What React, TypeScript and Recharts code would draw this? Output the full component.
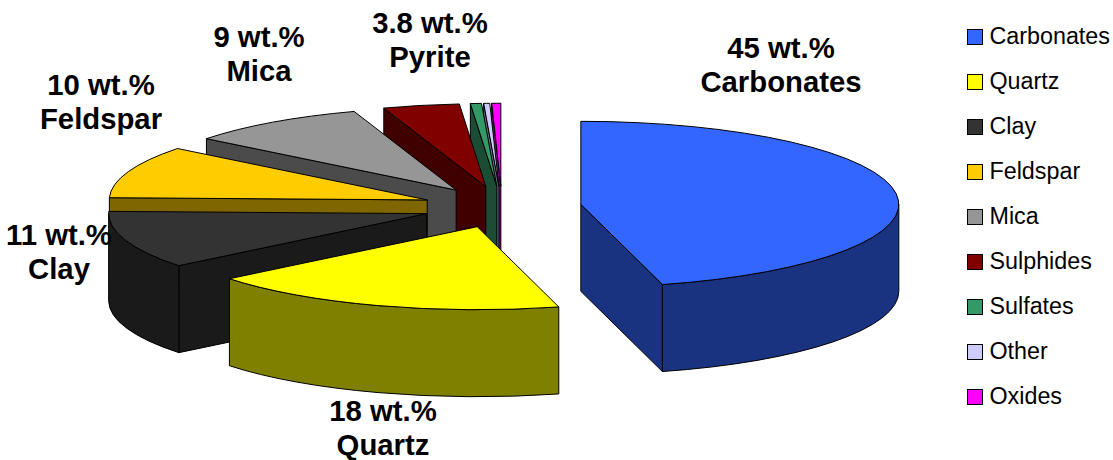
import { PieChart, Pie, Legend } from 'recharts';

const categories = ['Carbonates', 'Quartz', 'Clay', 'Feldspar', 'Mica', 'Sulphides', 'Sulfates', 'Other', 'Oxides'];
const weights = [45, 18, 11, 10, 9, 3.8, 0.55, 0.3, 0.45];
const topColors = ['#3366FF', '#FFFF00', '#333333', '#FFCC00', '#969696', '#800000', '#339966', '#CCCCFF', '#FF00FF'];
const sideColors = ['#1A3380', '#808000', '#1A1A1A', '#806600', '#4B4B4B', '#400000', '#1A4D33', '#666680', '#800080'];

// the caption under each percentage; the small slices carry none
const captions: Record<string, string> = {
  Carbonates: 'Carbonates',
  Quartz: 'Quartz',
  Clay: 'Clay',
  Feldspar: 'Feldspar',
  Mica: 'Mica',
  Sulphides: 'Pyrite',
};
const captionAnchors: Record<string, [number, number]> = {
  Carbonates: [781, 58],
  Quartz: [383, 421],
  Clay: [59, 245],
  Feldspar: [101, 95],
  Mica: [259, 47],
  Sulphides: [430, 33],
};

const RX = 318;
const RY = 83;
const DEPTH = 87;
const EXPLODE = 0.25;

// drawn back to front, running the angles the other way round so the layout stays clockwise from 12 o'clock
const tableData = categories
  .map((name, i) => ({ name, value: weights[i], fill: topColors[i], side: sideColors[i] }))
  .reverse();

const rad = (deg: number) => (deg * Math.PI) / 180;

function Slice3D(props: any) {
  const { cx, cy, startAngle, endAngle, fill, payload } = props;
  const a0 = Math.min(startAngle, endAngle);
  const a1 = Math.max(startAngle, endAngle);
  const mid = rad((a0 + a1) / 2);
  const ox = cx + EXPLODE * RX * Math.cos(mid);
  const oy = cy - EXPLODE * RY * Math.sin(mid);
  const pt = (deg: number): [number, number] => [ox + RX * Math.cos(rad(deg)), oy - RY * Math.sin(rad(deg))];
  const side = payload?.side ?? props.side;
  const stroke = { stroke: '#000', strokeWidth: 1, strokeLinejoin: 'round' as const };

  const wall = (deg: number) => {
    const [x, y] = pt(deg);
    return `M${ox},${oy} L${x},${y} L${x},${y + DEPTH} L${ox},${oy + DEPTH} Z`;
  };

  // the outer wall only shows on the front half of the ellipse
  const rimFrom = Math.max(a0, -180);
  const rimTo = Math.min(a1, 0);
  let rim = '';
  if (rimTo > rimFrom) {
    const [x0, y0] = pt(rimFrom);
    const [x1, y1] = pt(rimTo);
    const large = rimTo - rimFrom > 180 ? 1 : 0;
    rim = `M${x0},${y0} A${RX},${RY} 0 ${large} 0 ${x1},${y1} L${x1},${y1 + DEPTH} A${RX},${RY} 0 ${large} 1 ${x0},${y0 + DEPTH} Z`;
  }

  const [sx, sy] = pt(a0);
  const [ex, ey] = pt(a1);
  const top = `M${ox},${oy} L${sx},${sy} A${RX},${RY} 0 ${a1 - a0 > 180 ? 1 : 0} 0 ${ex},${ey} Z`;

  return (
    <g>
      {Math.cos(rad(a0)) > 0 && <path d={wall(a0)} fill={side} {...stroke} />}
      {Math.cos(rad(a1)) < 0 && <path d={wall(a1)} fill={side} {...stroke} />}
      {rim && <path d={rim} fill={side} {...stroke} />}
      <path d={top} fill={fill} {...stroke} />
    </g>
  );
}

function renderCaption(props: any) {
  const name = props.name ?? props.payload?.name;
  const anchor = captionAnchors[name];
  if (!anchor) return null;
  const value = props.value ?? props.payload?.value;
  return (
    <text
      x={anchor[0]}
      y={anchor[1]}
      textAnchor="middle"
      fontFamily="'Liberation Sans', Arial, sans-serif"
      fontWeight="bold"
      fontSize={29.3}
      fill="#000"
    >
      <tspan x={anchor[0]}>{`${value} wt.%`}</tspan>
      <tspan x={anchor[0]} dy={34}>{captions[name]}</tspan>
    </text>
  );
}

function LegendList({ payload }: any) {
  const items = [...(payload ?? [])].sort((a: any, b: any) => categories.indexOf(a.value) - categories.indexOf(b.value));
  return (
    <div style={{ fontFamily: "'Liberation Sans', Arial, sans-serif", fontSize: 23.3, color: '#000' }}>
      {items.map((item: any) => (
        <div key={item.value} style={{ display: 'flex', alignItems: 'center', height: 45, whiteSpace: 'nowrap' }}>
          <span
            style={{
              width: 14,
              height: 14,
              border: '1px solid #000',
              background: item.payload?.fill ?? item.color,
              marginRight: 6.5,
              display: 'inline-block',
            }}
          />
          {item.value}
        </div>
      ))}
    </div>
  );
}

export default function App() {
  return (
    <div style={{ position: 'absolute', left: 0, top: 0, width: 1113, height: 460, background: '#fff', overflow: 'hidden' }}>
      <PieChart width={1113} height={460} margin={{ top: 0, right: 0, bottom: 0, left: 0 }}>
        <Pie
          data={tableData}
          dataKey="value"
          nameKey="name"
          cx={502}
          cy={207}
          innerRadius={0}
          outerRadius={RX}
          startAngle={-270}
          endAngle={90}
          stroke="none"
          shape={Slice3D}
          label={renderCaption}
          labelLine={false}
          isAnimationActive={false}
        />
        <Legend
          layout="vertical"
          align="right"
          verticalAlign="top"
          content={<LegendList />}
          wrapperStyle={{ left: 967, right: 'auto', top: 14, width: 146 }}
        />
      </PieChart>
    </div>
  );
}
